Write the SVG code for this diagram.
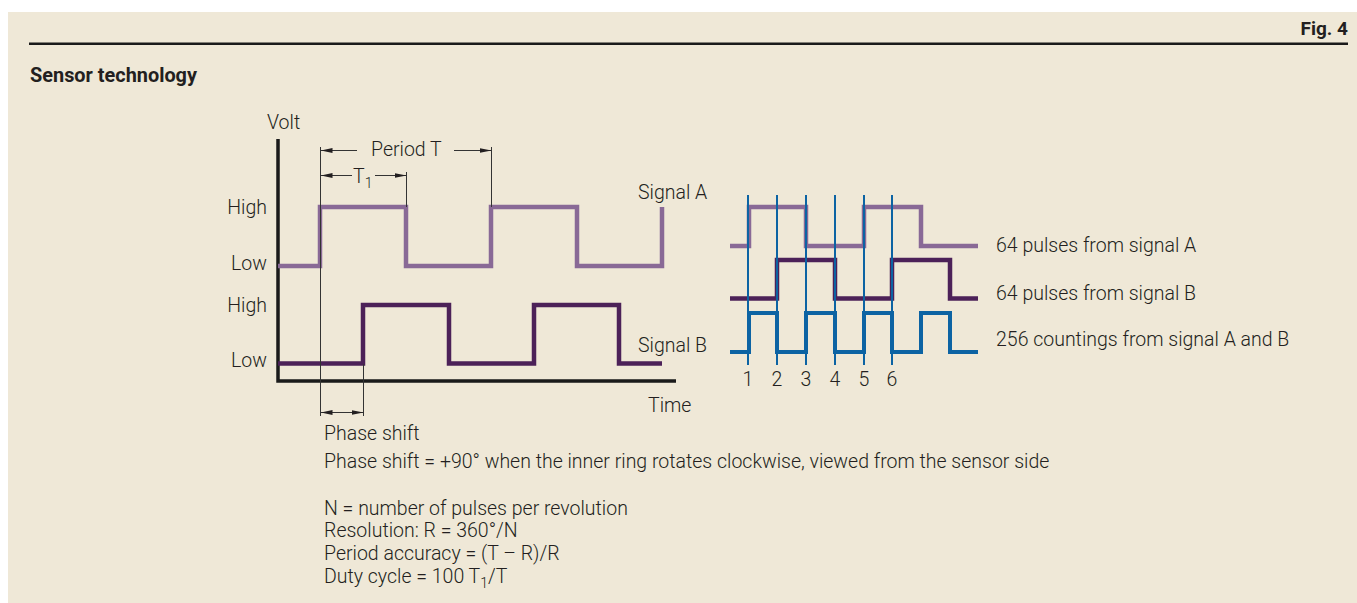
<svg xmlns="http://www.w3.org/2000/svg" width="1357" height="603" viewBox="0 0 1357 603">
<style>
.t{font-family:Roboto,"Liberation Sans",sans-serif;font-weight:300;font-size:19.5px;fill:#231f20}
.b{font-family:Roboto,"Liberation Sans",sans-serif;font-weight:700;fill:#231f20}
.sub{font-size:14px}
.sa{fill:none;stroke:#896996;stroke-width:4.5;stroke-linejoin:miter}
.sb{fill:none;stroke:#4c2158;stroke-width:4.5;stroke-linejoin:miter}
.sc{fill:none;stroke:#0c63a3;stroke-width:4;stroke-linejoin:miter}
.ax{fill:none;stroke:#1a1a1a;stroke-width:3.5}
.dim{fill:none;stroke:#333;stroke-width:1}
.grid{stroke:#0c63a3;stroke-width:2}
</style>
<defs>
<marker id="ah" viewBox="0 0 12 6" refX="12" refY="3" markerWidth="12" markerHeight="6" markerUnits="userSpaceOnUse" orient="auto">
<path d="M0,0.6 L12,3 L0,5.4 Z" fill="#231f20"/>
</marker>
</defs>
<rect x="8" y="12" width="1349" height="591" fill="#efe8d7"/>
<line x1="29" y1="43.7" x2="1348" y2="43.7" stroke="#1a1a1a" stroke-width="2.6"/>
<text class="b" x="1348" y="35" font-size="19" text-anchor="end">Fig. 4</text>
<text class="b" x="30" y="82" font-size="20" textLength="167" lengthAdjust="spacingAndGlyphs">Sensor technology</text>

<g id="left-chart">
<g id="axes">
<path class="ax" d="M278,139 V381 H676"/>
<text class="t" x="267" y="129">Volt</text>
<text class="t" x="648" y="412">Time</text>
<text class="t" x="267" y="214" text-anchor="end">High</text>
<text class="t" x="267" y="270" text-anchor="end">Low</text>
<text class="t" x="267" y="312" text-anchor="end">High</text>
<text class="t" x="267" y="367" text-anchor="end">Low</text>
</g>
<g id="signal-a">
<path class="sa" d="M278,266 H320 V207 H406 V266 H491 V207 H577 V266 H662 V207"/>
<text class="t" x="638" y="199">Signal A</text>
</g>
<g id="signal-b">
<path class="sb" d="M278,363.5 H363 V305 H449 V363.5 H534 V305 H619 V363.5 H662"/>
<text class="t" x="638" y="352">Signal B</text>
</g>
<g id="dimensions">
<path class="dim" d="M320.5,147 V416 M406.5,172 V207 M491.5,147 V207 M363.5,364 V416"/>
<line class="dim" x1="357" y1="150.5" x2="320.5" y2="150.5" marker-end="url(#ah)"/>
<line class="dim" x1="454" y1="150.5" x2="491.5" y2="150.5" marker-end="url(#ah)"/>
<text class="t" x="371" y="156">Period T</text>
<line class="dim" x1="352" y1="175.5" x2="320.5" y2="175.5" marker-end="url(#ah)"/>
<line class="dim" x1="375" y1="175.5" x2="406.5" y2="175.5" marker-end="url(#ah)"/>
<text class="t" x="353" y="183">T<tspan class="sub" dy="5">1</tspan></text>
<line class="dim" x1="342" y1="412.5" x2="320.5" y2="412.5" marker-end="url(#ah)"/>
<line class="dim" x1="342" y1="412.5" x2="363.5" y2="412.5" marker-end="url(#ah)"/>
<text class="t" x="324" y="440">Phase shift</text>
</g>
</g>

<g id="right-chart">
<g id="pulses-a">
<path class="sa" stroke-width="4" d="M730,246 H749 V207 H806 V246 H864 V207 H921 V246 H978"/>
<text class="t" x="996" y="252">64 pulses from signal A</text>
</g>
<g id="pulses-b">
<path class="sb" stroke-width="4" d="M730,298.5 H777 V260 H835 V298.5 H892 V260 H950 V298.5 H978"/>
<text class="t" x="996" y="300">64 pulses from signal B</text>
</g>
<g id="countings">
<path class="sc" d="M730,352 H749 V313 H777 V352 H806 V313 H835 V352 H864 V313 H892 V352 H921 V313 H950 V352 H978"/>
<text class="t" x="996" y="346">256 countings from signal A and B</text>
</g>
<g id="count-lines">
<path class="grid" d="M748,195 V365 M777,195 V365 M806,195 V365 M835,195 V365 M864,195 V365 M892,195 V365"/>
<text class="t" x="748" y="386" text-anchor="middle">1</text>
<text class="t" x="777" y="386" text-anchor="middle">2</text>
<text class="t" x="806" y="386" text-anchor="middle">3</text>
<text class="t" x="835" y="386" text-anchor="middle">4</text>
<text class="t" x="864" y="386" text-anchor="middle">5</text>
<text class="t" x="892" y="386" text-anchor="middle">6</text>
</g>
</g>

<g id="notes">
<text class="t" x="324" y="468">Phase shift = +90° when the inner ring rotates clockwise, viewed from the sensor side</text>
<text class="t" x="324" y="515">N = number of pulses per revolution</text>
<text class="t" x="324" y="537">Resolution: R = 360°/N</text>
<text class="t" x="324" y="560">Period accuracy = (T – R)/R</text>
<text class="t" x="324" y="583">Duty cycle = 100 T<tspan class="sub" dy="5">1</tspan><tspan dy="-5">/T</tspan></text>
</g>
</svg>
